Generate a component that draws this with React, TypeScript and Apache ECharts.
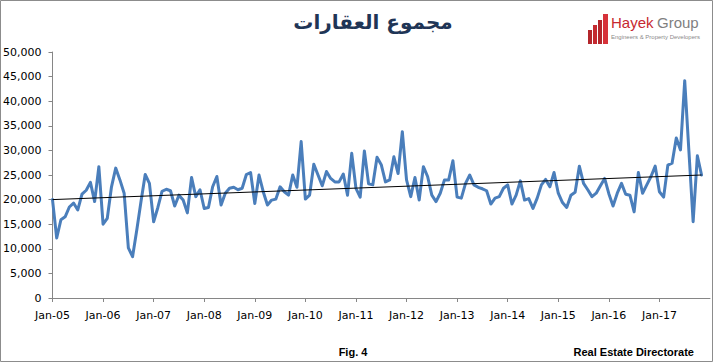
import React, { useEffect, useRef } from "react";
import * as echarts from "echarts";

const v2005 = [20000, 12200, 15900, 16500, 18500, 19300, 17900, 21100, 21900, 23500, 19600, 26700];
const v2006 = [15000, 16200, 22600, 26400, 24000, 21300, 10200, 8400, 13800, 19600, 25100, 23300];
const v2007 = [15500, 18400, 21700, 22100, 21800, 18700, 20900, 19900, 17300, 24500, 20600, 22000];
const v2008 = [18200, 18400, 22600, 24700, 18900, 21300, 22300, 22500, 22000, 22300, 25100, 25500];
const v2009 = [19200, 25000, 21600, 18900, 19900, 20100, 22600, 21600, 20900, 25000, 22500, 31800];
const v2010 = [20100, 20900, 27200, 25000, 22800, 25700, 24300, 23600, 23600, 25200, 20900, 29400];
const v2011 = [22300, 20500, 29900, 23200, 23000, 28600, 27100, 23600, 24000, 28700, 25300, 33800];
const v2012 = [24000, 20600, 24500, 19900, 26700, 24700, 20900, 19600, 21300, 24000, 24000, 27900];
const v2013 = [20500, 20300, 23300, 25000, 23000, 22500, 22200, 21800, 19100, 20300, 20600, 22300];
const v2014 = [23000, 19100, 20900, 23800, 19900, 20200, 18200, 20300, 23000, 24100, 22600, 25500];
const v2015 = [21300, 19400, 18400, 20900, 21500, 26800, 23300, 22000, 20600, 21300, 22800, 24300];
const v2016 = [21200, 18700, 21300, 23300, 21100, 20900, 17500, 25500, 21300, 23000, 24700, 26800];
const v2017 = [21600, 20500, 27000, 27400, 32500, 30100, 44181, 29800, 15500, 28900, 25000];

const xLabels = [
  "Jan-05", "Jan-06", "Jan-07", "Jan-08", "Jan-09", "Jan-10", "Jan-11",
  "Jan-12", "Jan-13", "Jan-14", "Jan-15", "Jan-16", "Jan-17",
];

const trendStart = 20000;
const trendEnd = 25000;
const labelledValue = 44181;

const titleText = "مجموع العقارات";
const figText = "Fig. 4";
const sourceText = "Real Estate Directorate";

export default function App() {
  const ref = useRef<HTMLDivElement>(null);
  useEffect(() => {
    if (!ref.current) return;
    const chart = echarts.init(ref.current, null, { renderer: "svg" });
    const values = [
      ...v2005, ...v2006, ...v2007, ...v2008, ...v2009, ...v2010, ...v2011,
      ...v2012, ...v2013, ...v2014, ...v2015, ...v2016, ...v2017,
    ];
    const lastIdx = values.length - 1;
    const data = values.map((v, i) =>
      v === labelledValue
        ? {
            value: [i, v],
            label: {
              show: true,
              position: "top",
              distance: 5,
              formatter: (p: any) => p.value[1].toLocaleString("en-US"),
              color: "#000",
              fontSize: 11,
              fontFamily: "DejaVu Sans",
            },
          }
        : { value: [i, v] }
    );
    const font = "DejaVu Sans";
    chart.setOption({
      animation: false,
      backgroundColor: "#fff",
      grid: { left: 52, top: 52, right: 3, bottom: 64 },
      xAxis: {
        type: "value",
        min: 0,
        max: 156,
        interval: 12,
        axisLine: { show: true, lineStyle: { color: "#868686", width: 1 } },
        axisTick: { show: true, length: 4, lineStyle: { color: "#868686" } },
        splitLine: { show: false },
        axisLabel: {
          formatter: (v: number) => (v % 12 === 0 && xLabels[v / 12]) || "",
          showMaxLabel: false,
          color: "#000",
          fontSize: 11,
          fontFamily: font,
          margin: 12,
        },
      },
      yAxis: {
        type: "value",
        min: 0,
        max: 50000,
        interval: 5000,
        axisLine: { show: true, lineStyle: { color: "#868686", width: 1 } },
        axisTick: { show: true, length: 4, lineStyle: { color: "#868686" } },
        splitLine: { show: false },
        axisLabel: {
          formatter: (v: number) => v.toLocaleString("en-US"),
          color: "#000",
          fontSize: 11,
          fontFamily: font,
          margin: 11,
        },
      },
      series: [
        {
          type: "line",
          data,
          symbol: "none",
          lineStyle: { color: "#4A7EBB", width: 3, join: "round", cap: "round" },
          itemStyle: { color: "#4A7EBB" },
          z: 2,
          markLine: {
            silent: true,
            symbol: ["none", "none"],
            label: { show: false },
            lineStyle: { color: "#000", width: 1, type: "solid" },
            data: [[{ coord: [0, trendStart] }, { coord: [lastIdx, trendEnd] }]],
            z: 3,
          },
        },
      ],
      graphic: [
        {
          type: "rect",
          shape: { x: 0.5, y: 0.5, width: 712, height: 361 },
          style: { fill: "none", stroke: "#8c8c8c", lineWidth: 1 },
          silent: true,
        },
        {
          type: "text",
          x: 373,
          y: 22,
          style: {
            text: titleText,
            fontSize: 20,
            fontWeight: "bold",
            fontFamily: font,
            fill: "#1F3556",
            align: "center",
            verticalAlign: "middle",
          },
        },
        // logo bars
        { type: "rect", shape: { x: 588, y: 30, width: 4, height: 14 }, style: { fill: "#B3262B" } },
        { type: "rect", shape: { x: 593, y: 25, width: 4, height: 19 }, style: { fill: "#C42A30" } },
        { type: "rect", shape: { x: 598, y: 20, width: 4, height: 24 }, style: { fill: "#B3262B" } },
        { type: "rect", shape: { x: 603, y: 14, width: 5, height: 30 }, style: { fill: "#D6323A" } },
        {
          type: "text",
          x: 611,
          y: 22,
          style: {
            text: "Hayek",
            fontSize: 15,
            fontFamily: "Liberation Sans",
            fill: "#C7282F",
            verticalAlign: "middle",
          },
        },
        {
          type: "text",
          x: 657,
          y: 22,
          style: {
            text: "Group",
            fontSize: 15,
            fontFamily: "Liberation Sans",
            fill: "#7f7f7f",
            verticalAlign: "middle",
          },
        },
        {
          type: "text",
          x: 611,
          y: 37,
          style: {
            text: "Engineers & Property Developers",
            fontSize: 6,
            fontFamily: "Liberation Sans Narrow, Liberation Sans",
            fill: "#8a8a8a",
            verticalAlign: "middle",
          },
        },
        {
          type: "text",
          x: 353,
          y: 352,
          style: {
            text: figText,
            fontSize: 11,
            fontWeight: "bold",
            fontFamily: "Liberation Sans Narrow, Liberation Sans",
            fill: "#000",
            align: "center",
            verticalAlign: "middle",
          },
        },
        {
          type: "text",
          x: 694,
          y: 352,
          style: {
            text: sourceText,
            fontSize: 11,
            fontWeight: "bold",
            fontFamily: "Liberation Sans Narrow, Liberation Sans",
            fill: "#000",
            align: "right",
            verticalAlign: "middle",
          },
        },
      ],
    });
    return () => chart.dispose();
  }, []);
  return (
    <div
      ref={ref}
      style={{ position: "absolute", left: 0, top: 0, width: 713, height: 362 }}
    />
  );
}
